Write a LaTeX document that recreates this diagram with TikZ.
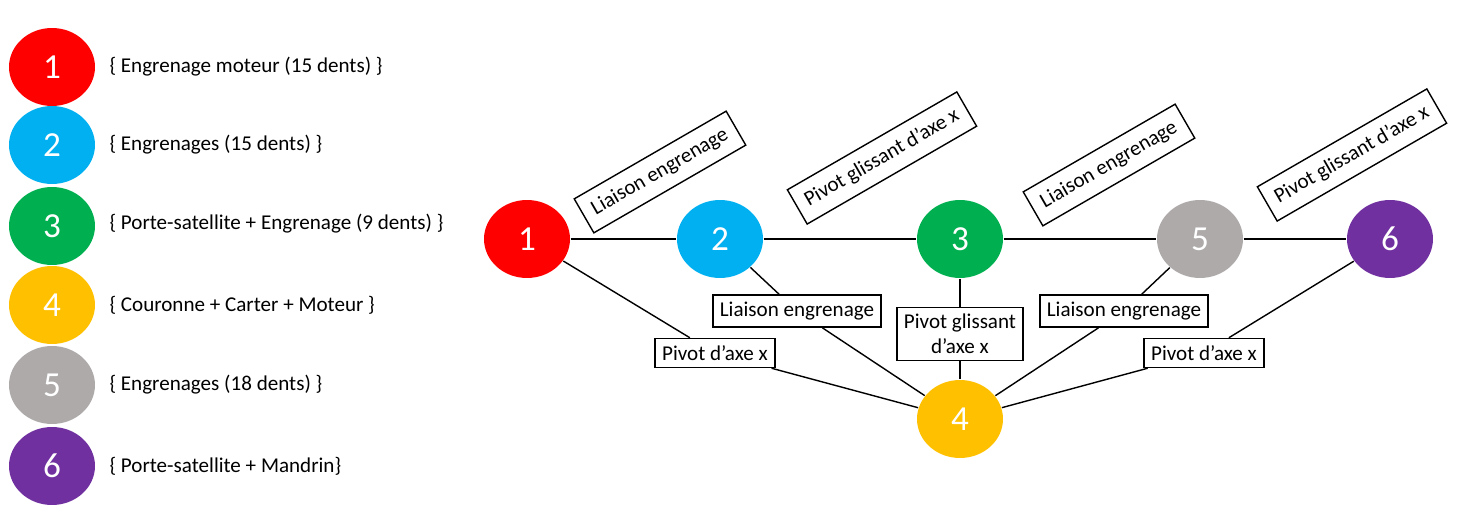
\documentclass[tikz,border=0pt]{standalone}
\usepackage{fontspec}
\setmainfont{Carlito}
\usetikzlibrary{positioning,shapes.geometric}
\definecolor{cred}{HTML}{FF0000}
\definecolor{cblue}{HTML}{00B0F0}
\definecolor{cgreen}{HTML}{00B050}
\definecolor{cyell}{HTML}{FFC000}
\definecolor{cgrey}{HTML}{AEAAAA}
\definecolor{cpurp}{HTML}{7030A0}
\tikzset{every picture/.style={line width=0.8pt}}
\begin{document}
\begin{tikzpicture}[x=0.02cm, y=-0.02cm,
  part/.style={ellipse, minimum width=1.72cm, minimum height=1.56cm, text=white, font=\fontsize{20}{22}\selectfont},
  link/.style={draw, rectangle, fill=white, inner sep=4pt, align=center, font=\fontsize{12}{14}\selectfont},
  tilt/.style={link, rotate=30, inner xsep=6pt, inner ysep=6pt},
  desc/.style={anchor=west, font=\fontsize{12}{14}\selectfont}]
\useasboundingbox (0,0) rectangle (1465,520);
    % Legend
\node[part, fill=cred] (L1) at (52,67) {1};
\node[part, fill=cblue] (L2) at (52,145) {2};
\node[part, fill=cgreen] (L3) at (52,226) {3};
\node[part, fill=cyell] (L4) at (52,305) {4};
\node[part, fill=cgrey] (L5) at (52,385) {5};
\node[part, fill=cpurp] (L6) at (52,466) {6};
\node[desc] at (103,67) {\{ Engrenage moteur (15 dents) \}};
\node[desc] at (103,145) {\{ Engrenages (15 dents) \}};
\node[desc] at (103,224) {\{ Porte-satellite + Engrenage (9 dents) \}};
\node[desc] at (103,305) {\{ Couronne + Carter + Moteur \}};
\node[desc] at (103,385) {\{ Engrenages (18 dents) \}};
\node[desc] at (103,466) {\{ Porte-satellite + Mandrin\}};
    % Graph
\node[part, fill=cred] (n1) at (527,239) {1};
\node[part, fill=cblue] (n2) at (720,239) {2};
\node[part, fill=cgreen] (n3) at (960,239) {3};
\node[part, fill=cgrey] (n5) at (1200,239) {5};
\node[part, fill=cpurp] (n6) at (1390,239) {6};
\node[part, fill=cyell] (n4) at (960,419) {4};
    % Top links
\node[tilt] (t12) at (660,172) {Liaison engrenage};
\node[tilt] (t23) at (882,158) {Pivot glissant d’axe x};
\node[tilt] (t35) at (1109,165) {Liaison engrenage};
\node[tilt] (t56) at (1352,155) {Pivot glissant d’axe x};
\draw (n1) -- (n2);
\draw (n2) -- (n3);
\draw (n3) -- (n5);
\draw (n5) -- (n6);
    % Links to 4
\node[link] (p14) at (715,353) {Pivot d’axe x};
\node[link] (g24) at (797,311) {Liaison engrenage};
\node[link] (p34) at (960,334) {Pivot glissant\\d’axe x};
\node[link] (g54) at (1124,311) {Liaison engrenage};
\node[link] (p64) at (1204,353) {Pivot d’axe x};
\draw (n1) -- (p14) -- (n4);
\draw (n2) -- (g24) -- (n4);
\draw (n3) -- (p34) -- (n4);
\draw (n5) -- (g54) -- (n4);
\draw (n6) -- (p64) -- (n4);
\end{tikzpicture}
\end{document}
